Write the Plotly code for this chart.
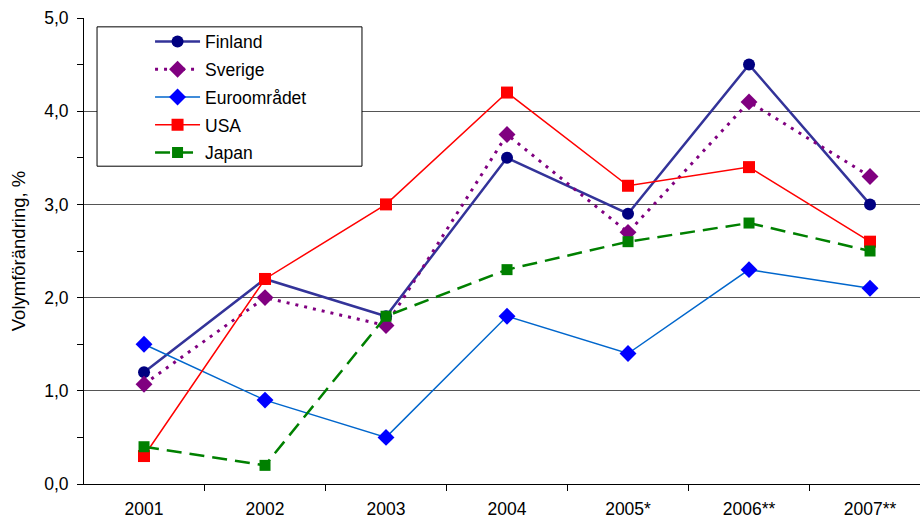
import plotly.graph_objects as go

years = ["2001", "2002", "2003", "2004", "2005*", "2006**", "2007**"]
finland = [1.2, 2.2, 1.8, 3.5, 2.9, 4.5, 3.0]
sverige = [1.07, 2.0, 1.7, 3.75, 2.7, 4.1, 3.3]
euro = [1.5, 0.9, 0.5, 1.8, 1.4, 2.3, 2.1]
usa = [0.3, 2.2, 3.0, 4.2, 3.2, 3.4, 2.6]
japan = [0.4, 0.2, 1.8, 2.3, 2.6, 2.8, 2.5]

series = [
    ("Finland", finland, dict(color="#333399", width=2.5, dash="solid"),
     dict(symbol="circle", size=12, color="#000080")),
    ("Sverige", sverige, dict(color="#800080", width=3, dash="3px,6px"),
     dict(symbol="diamond", size=13, color="#800080")),
    ("Euroområdet", euro, dict(color="#0066CC", width=1.5, dash="solid"),
     dict(symbol="diamond", size=13, color="#0000FF")),
    ("USA", usa, dict(color="#FF0000", width=1.5, dash="solid"),
     dict(symbol="square", size=12, color="#FF0000")),
    ("Japan", japan, dict(color="#008000", width=2.5, dash="15px,8px"),
     dict(symbol="square", size=11, color="#008000")),
]

fig = go.Figure()
for i, (name, vals, line, marker) in enumerate(series):
    fig.add_trace(go.Scatter(
        x=years, y=vals, name=name, mode="lines+markers",
        line=line, marker=marker, legendgroup=f"g{i}",
    ))

font = "Liberation Sans, Arial, sans-serif"
fsize = 17.5

fig.update_layout(
    width=920, height=519,
    margin=dict(l=84, r=0, t=18, b=35),
    paper_bgcolor="white", plot_bgcolor="white",
    separators=", ",
    font=dict(family=font, size=fsize, color="black"),
    showlegend=True,
    legend=dict(
        x=0.079, y=0.988, xanchor="left", yanchor="top",
        bgcolor="rgba(0,0,0,0)", borderwidth=0,
        font=dict(family=font, size=fsize, color="black"),
        tracegroupgap=2, itemwidth=45,
    ),
    shapes=[dict(
        type="rect", xref="paper", yref="paper",
        x0=0.0156, x1=0.3325, y0=0.682, y1=0.981,
        line=dict(color="black", width=1), fillcolor="white", layer="above",
    )],
)

fig.update_xaxes(
    type="category", range=[-0.496, 6.413], automargin=False,
    showline=True, linecolor="black", linewidth=1,
    ticks="outside", tickson="boundaries", ticklen=6, tickcolor="black",
    ticklabelstandoff=9,
    showgrid=False, zeroline=False,
    tickfont=dict(family=font, size=fsize, color="black"),
)

fig.update_yaxes(
    range=[0, 5], dtick=1, tick0=0, tickformat=".1f", automargin=False,
    showline=True, linecolor="black", linewidth=1,
    ticks="outside", ticklen=6, tickcolor="black",
    ticklabelstandoff=5,
    minor=dict(dtick=0.5, ticks="outside", ticklen=6, tickcolor="black", showgrid=False),
    showgrid=True, gridcolor="#555555", gridwidth=1,
    zeroline=False,
    title=dict(text="Volymförändring, %", font=dict(family=font, size=18.5, color="black"), standoff=13),
    tickfont=dict(family=font, size=fsize, color="black"),
)

fig.write_html("out.html")
